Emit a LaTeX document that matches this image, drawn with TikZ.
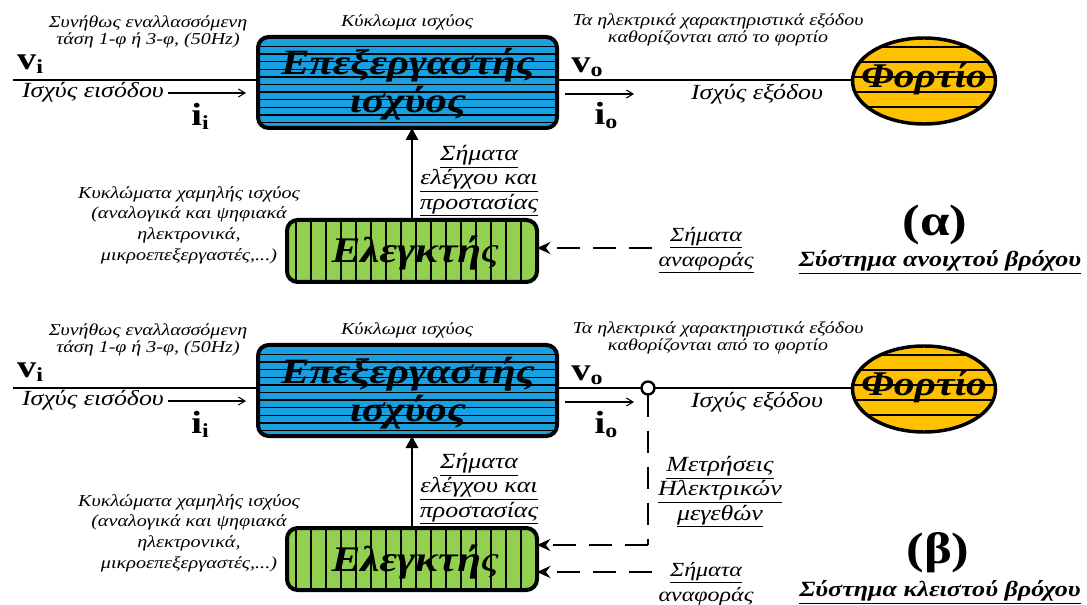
\documentclass[tikz,border=0pt]{standalone}
\usepackage{fontspec}
\setmainfont{Liberation Serif}[FakeStretch=1.2]
\usetikzlibrary{shapes.geometric,arrows.meta,calc}
\definecolor{pblue}{RGB}{25,160,225}
\definecolor{cgreen}{RGB}{146,208,80}
\definecolor{lorange}{RGB}{255,192,0}
\newcommand\vsym[2]{{\fontsize{24}{24}\selectfont\bfseries #1}\raisebox{-3pt}{\fontsize{15}{15}\selectfont\bfseries #2}}
\tikzset{
  every node/.style={inner sep=0pt, outer sep=0pt},
  stripe/.style={line width=1.1pt, black},
  mainbox/.style={draw, line width=3pt, rounded corners=8pt, fill=pblue,
    minimum width=299*0.75pt, minimum height=91*0.75pt,
    path picture={\foreach \k in {0,...,10}{\draw[stripe] ($(path picture bounding box.north west)+(0,9.5+7.6*\k)$) -- ++(320,0);}}},
  ctrlbox/.style={draw, line width=3pt, rounded corners=8pt, fill=cgreen,
    minimum width=250*0.75pt, minimum height=62*0.75pt,
    path picture={\foreach \k in {0,...,15}{\draw[stripe] ($(path picture bounding box.north west)+(9+15*\k,0)$) -- ++(0,80);}}},
  loadell/.style={draw, ellipse, line width=2.6pt, fill=lorange,
    minimum width=143*0.75pt, minimum height=86*0.75pt,
    path picture={\foreach \k in {0,...,4}{\draw[stripe] ($(path picture bounding box.north west)+(0,9+15*\k)$) -- ++(160,0);}}},
  boxtxt/.style={anchor=base, font=\fontsize{26.7}{30}\selectfont\bfseries\itshape},
  loadtxt/.style={font=\fontsize{26}{28}\selectfont\bfseries\itshape},
  smalltxt/.style={align=center, font=\fontsize{12.5}{12.75}\selectfont\itshape},
  lefttxt/.style={align=center, font=\fontsize{12.6}{15.5}\selectfont\itshape},
  medtxt/.style={font=\fontsize{16.2}{18}\selectfont\itshape},
  sigtxt/.style={align=center, font=\fontsize{16.2}{18.2}\selectfont\itshape},
  reftxt/.style={align=center, font=\fontsize{15}{18.75}\selectfont\itshape},
  captxt/.style={font=\fontsize{16.3}{18}\selectfont\bfseries\itshape},
  lettxt/.style={font=\fontsize{33}{36}\selectfont\bfseries},
  wire/.style={line width=2.2pt},
  thinarrow/.style={line width=0.8pt, -{Straight Barb[length=5pt,width=6pt]}},
  ctrlarrow/.style={line width=2.2pt, -{Triangle[length=9pt,width=9pt]}},
  dasharrow/.style={line width=2.2pt, dash pattern=on 17pt off 10pt, -{Stealth[length=10pt,width=9pt]}},
  dashline/.style={line width=2.2pt, dash pattern=on 17pt off 10pt},
  meas/.style={draw, circle, line width=1.8pt, fill=white, minimum size=13*0.75pt},
}
\newcommand\halfdiag[2]{%
\begin{scope}[shift={(0,#2)}]
  \node[mainbox] (pp#1) at (407.5,82.5) {};
  \node[boxtxt] (ppa#1) at (408,75) {Επεξεργαστής};
  \node[boxtxt] (ppb#1) at (408,113) {ισχύος};
  \node[loadell] (load#1) at (924,81) {};
  \node[loadtxt] (loadt#1) at (924,78) {Φορτίο};
  \node[ctrlbox] (ctrl#1) at (412,251) {};
  \node[boxtxt, font=\fontsize{27}{30}\selectfont] (ctrlt#1) at (415,263) {{\bfseries\itshape Ελεγκτή}{\itshape ς}};
  \coordinate (in#1) at (13,80);
  \draw[wire] (in#1) -- (in#1 -| pp#1.west);
  \draw[wire] (pp#1.east |- in#1) -- (load#1.west |- in#1);
  \coordinate (iaS#1) at (168,93);
  \coordinate (iaE#1) at (246,93);
  \draw[thinarrow] (iaS#1) -- (iaE#1);
  \coordinate (oaS#1) at (565,94);
  \coordinate (oaE#1) at (634,94);
  \draw[thinarrow] (oaS#1) -- (oaE#1);
  \draw[ctrlarrow] (ctrl#1.north) -- (ctrl#1.north |- pp#1.south);
  \node[smalltxt] (tin#1) at (148,32) {Συνήθως εναλλασσόμενη\\τάση 1-φ ή 3-φ, (50Hz)};
  \node[smalltxt] (tpc#1) at (407,22) {Κύκλωμα ισχύος};
  \node[smalltxt] (tout#1) at (718,30) {Τα ηλεκτρικά χαρακτηριστικά εξόδου\\καθορίζονται από το φορτίο};
  \node (vi#1) at (30,64) {\vsym{v}{i}};
  \node (ii#1) at (200,116) {\vsym{i}{i}};
  \node (vo#1) at (587,67) {\vsym{v}{o}};
  \node (io#1) at (606,116) {\vsym{i}{o}};
  \node[medtxt] (pin#1) at (93,92) {Ισχύς εισόδου};
  \node[medtxt] (pout#1) at (757,94) {Ισχύς εξόδου};
  \node[sigtxt] (sig#1) at (479,181) {\underline{Σήματα}\\\underline{ελέγχου και}\\\underline{προστασίας}};
  \node[lefttxt] (low#1) at (189,225) {Κυκλώματα χαμηλής ισχύος\\(αναλογικά και ψηφιακά\\ηλεκτρονικά,\\μικροεπεξεργαστές,...)};
\end{scope}}
\begin{document}
\begin{tikzpicture}[x=0.75pt,y=-0.75pt]
\useasboundingbox (0,0) rectangle (1087,605);
\halfdiag{a}{0}
\halfdiag{b}{308}
% top: open loop
\coordinate (refa) at (652,248);
\draw[dasharrow] (refa) -- (refa -| ctrla.east);
\node[reftxt] (refta) at (706,250) {\underline{Σήματα}\\\underline{αναφοράς}};
\node[lettxt] (leta) at (935,225) {(α)};
\node[captxt] (capa) at (940,262) {\underline{Σύστημα ανοιχτού βρόχου}};
% bottom: closed loop
\node[meas] (measb) at (648,388) {};
\coordinate (fbb) at (648,545);
\draw[dashline] (measb.south) -- (fbb);
\draw[dasharrow] (fbb) -- (fbb -| ctrlb.east);
\coordinate (refb) at (652,572);
\draw[dasharrow] (refb) -- (refb -| ctrlb.east);
\node[sigtxt] (mtb) at (720,492) {\underline{Μετρήσεις}\\\underline{Ηλεκτρικών}\\\underline{μεγεθών}};
\node[reftxt] (reftb) at (706,585) {\underline{Σήματα}\\\underline{αναφοράς}};
\node[lettxt] (letb) at (938,553) {(β)};
\node[captxt] (capb) at (940,592) {\underline{Σύστημα κλειστού βρόχου}};
\end{tikzpicture}
\end{document}
